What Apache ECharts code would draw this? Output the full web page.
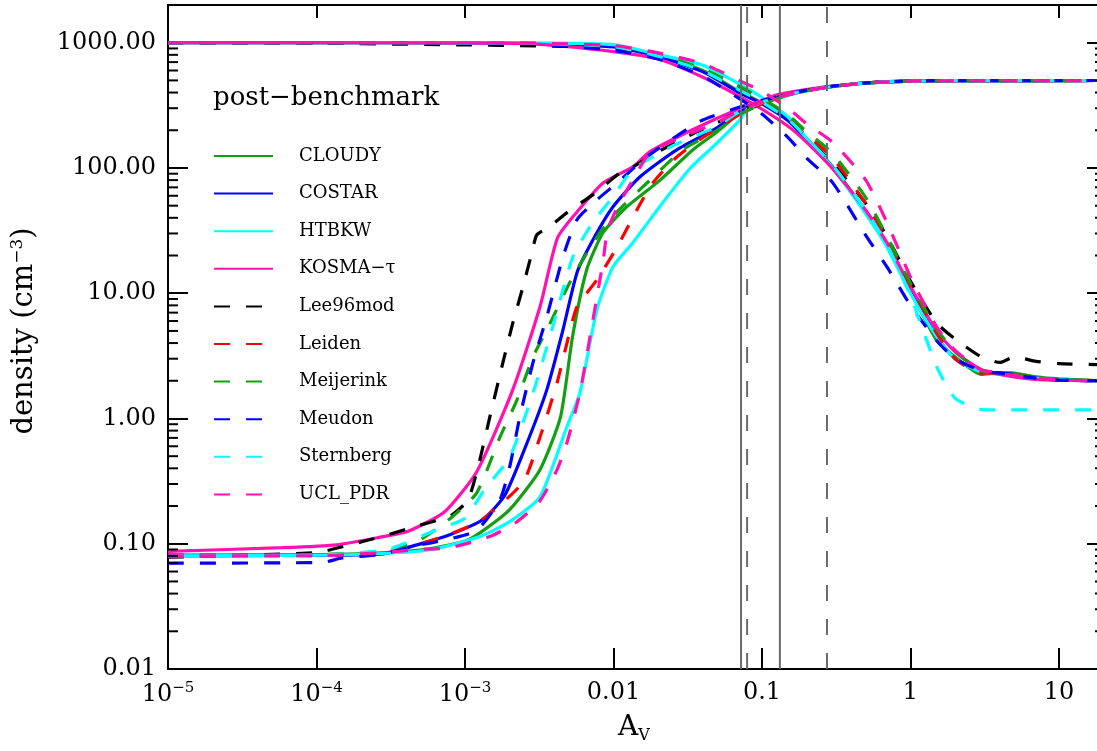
<!DOCTYPE html>
<html>
<head>
<meta charset="utf-8">
<script src="https://cdn.jsdelivr.net/npm/echarts@6/dist/echarts.min.js"></script>
<style>
  html, body { margin: 0; padding: 0; background: #ffffff; }
  #chart { width: 1097px; height: 751px; }
</style>
</head>
<body>
<div id="chart"></div>
<script>
// PDR benchmark: atomic (H) and molecular (H2) hydrogen density vs. visual extinction

const MODELS = ['CLOUDY', 'COSTAR', 'HTBKW', 'KOSMA−τ', 'Lee96mod', 'Leiden', 'Meijerink', 'Meudon', 'Sternberg', 'UCL_PDR'];

// A_V sampling for the H (decreasing) curves
const DESC_A = [1e-5, 1e-4, 1e-3, 3e-3, 0.01, 0.02, 0.04, 0.07, 0.1, 0.15, 0.2, 0.3, 0.5, 0.7, 1, 1.5, 2, 3, 4, 5, 7, 10, 18.9];

// n(H) per model, on DESC_A
const CLOUDY_H = [1000, 1000, 998, 988, 935, 790, 600, 410, 330, 245, 172, 102, 45, 24, 10.5, 4.2, 3.1, 2.25, 2.32, 2.3, 2.15, 2.07, 2.0];
const COSTAR_H = [1000, 1000, 997, 985, 925, 775, 585, 400, 325, 238, 168, 100, 44, 23.5, 10.3, 4.5, 3.0, 2.4, 2.3, 2.25, 2.1, 2.03, 2.0];
const HTBKW_H = [1000, 1000, 999, 993, 965, 805, 660, 470, 365, 255, 172, 100, 43, 23, 10.0, 4.5, 3.0, 2.35, 2.25, 2.2, 2.1, 2.03, 2.0];
const KOSMA_H = [1000, 1000, 996, 975, 850, 740, 530, 375, 295, 215, 160, 98, 46, 25, 11.3, 5.0, 3.4, 2.45, 2.25, 2.15, 2.05, 2.02, 2.0];
const LEE_H = [1000, 990, 960, 945, 905, 780, 590, 420, 335, 245, 178, 108, 52, 28, 12.5, 5.8, 4.3, 3.1, 2.8, 3.1, 2.86, 2.74, 2.69];
const LEIDEN_H = [1000, 1000, 998, 988, 935, 790, 610, 440, 350, 255, 185, 120, 52, 27, 11.5, 4.8, 3.0, 2.3, 2.3, 2.25, 2.1, 2.03, 2.0];
const MEIJ_H = [1000, 1000, 998, 988, 940, 800, 620, 450, 360, 265, 195, 130, 58, 28, 12, 5.2, 3.4, 2.4, 2.3, 2.25, 2.1, 2.03, 2.0];
const MEUDON_H = [1000, 1000, 997, 980, 870, 740, 540, 360, 270, 175, 120, 76, 29, 16, 8.0, 4.2, 3.0, 2.4, 2.3, 2.2, 2.1, 2.02, 2.0];
const STERN_H = [1000, 1000, 998, 988, 930, 780, 595, 420, 335, 245, 175, 105, 46, 24, 9.5, 2.6, 1.45, 1.18, 1.17, 1.17, 1.17, 1.17, 1.17];
const UCL_H = [1000, 1000, 999, 990, 946, 830, 680, 500, 410, 300, 225, 160, 80, 36, 13.5, 5.4, 3.5, 2.45, 2.3, 2.2, 2.1, 2.02, 2.0];

// n(H2) per model, as [A_V, density] pairs
const CLOUDY_H2 = [[1e-5,0.081],[1e-4,0.082],[3e-4,0.085],[6e-4,0.092],[1e-3,0.105],[1.26e-3,0.122],[2.0e-3,0.187],[3.2e-3,0.39],[4.4e-3,1.03],[5.3e-3,4.5],[6.6e-3,15.4],[8.5e-3,30.4],[0.0123,49],[0.0206,80],[0.0343,140],[0.05,195],[0.07,270],[0.1,330],[0.15,385],[0.2,415],[0.3,448],[0.5,477],[1,494],[2,498],[18.9,499]];
const COSTAR_H2 = [[1e-5,0.08],[1e-4,0.081],[2.8e-4,0.083],[4.75e-4,0.098],[7.9e-4,0.118],[1.32e-3,0.156],[1.86e-3,0.245],[2.62e-3,0.64],[3.56e-3,1.7],[4.57e-3,5.1],[5.68e-3,14.6],[7.28e-3,26.7],[9.93e-3,49],[0.0151,85],[0.0268,140],[0.05,210],[0.07,280],[0.1,335],[0.15,387],[0.2,416],[0.3,448],[0.5,477],[1,494],[2,498],[18.9,499]];
const HTBKW_H2 = [[1e-5,0.08],[1e-4,0.081],[3e-4,0.084],[6e-4,0.09],[1.26e-3,0.114],[2.0e-3,0.15],[3.2e-3,0.237],[4.86e-3,0.86],[5.94e-3,1.6],[7.74e-3,7.4],[9.93e-3,16.3],[0.0135,25.3],[0.0215,53],[0.033,100],[0.05,159],[0.0713,243],[0.079,292],[0.1,325],[0.15,380],[0.2,412],[0.3,446],[0.5,476],[1,494],[2,498],[18.9,499]];
const KOSMA_H2 = [[1e-5,0.087],[5.9e-5,0.093],[1.37e-4,0.098],[2.8e-4,0.114],[4.1e-4,0.125],[7.3e-4,0.18],[1.2e-3,0.376],[2.1e-3,1.7],[3.2e-3,7.8],[4.2e-3,27.7],[5.7e-3,44.8],[8.5e-3,76],[0.0135,102],[0.0176,135],[0.034,202],[0.0713,300],[0.1,345],[0.126,384],[0.274,446],[0.5,477],[1,495],[2,498],[18.9,499]];
const LEE_H2 = [[1e-5,0.078],[1e-4,0.085],[1.68e-4,0.098],[2.8e-4,0.115],[4.7e-4,0.138],[7.3e-4,0.16],[8.2e-4,0.17],[1.05e-3,0.224],[1.26e-3,0.47],[1.47e-3,1.03],[1.8e-3,2.79],[2.1e-3,5.8],[2.46e-3,11.3],[2.82e-3,21],[3.05e-3,29.3],[3.73e-3,34],[4.86e-3,44],[7.74e-3,64.6],[0.0106,88],[0.0135,102],[0.02,135],[0.035,190],[0.05,230],[0.07,285],[0.1,335],[0.15,387],[0.2,416],[0.3,448],[0.5,477],[1,494],[2,498],[18.9,499]];
const LEIDEN_H2 = [[1e-5,0.081],[1e-4,0.081],[3e-4,0.086],[6.8e-4,0.112],[1.26e-3,0.152],[2.46e-3,0.31],[3.2e-3,0.71],[4.17e-3,1.93],[4.86e-3,4.0],[5.68e-3,7.8],[7.74e-3,12.8],[0.0106,23.5],[0.0144,46.5],[0.0184,76],[0.0268,123],[0.04,175],[0.07,265],[0.1,325],[0.15,382],[0.2,414],[0.3,447],[0.5,476],[1,494],[2,498],[18.9,499]];
const MEIJ_H2 = [[1e-5,0.081],[1e-4,0.082],[3e-4,0.088],[5e-4,0.108],[8e-4,0.16],[1.2e-3,0.255],[1.72e-3,0.71],[2.24e-3,1.41],[2.87e-3,3.1],[3.56e-3,5.1],[5.33e-3,13.6],[8.1e-3,30.4],[0.0106,44.8],[0.0176,80],[0.0294,140],[0.05,200],[0.07,265],[0.1,325],[0.15,383],[0.2,414],[0.3,447],[0.5,476],[1,494],[2,498],[18.9,499]];
const MEUDON_H2 = [[1e-5,0.07],[1.1e-4,0.071],[1.49e-4,0.077],[2.7e-4,0.082],[4.6e-4,0.096],[7.6e-4,0.108],[1.2e-3,0.128],[1.72e-3,0.224],[2.0e-3,0.41],[2.34e-3,1.03],[2.87e-3,2.79],[3.56e-3,6.5],[4.57e-3,19.5],[5.68e-3,38.6],[7.74e-3,55.7],[0.0106,76],[0.0168,123],[0.038,235],[0.07,305],[0.1,345],[0.15,390],[0.2,418],[0.3,450],[0.5,478],[1,495],[2,498],[18.9,499]];
const STERN_H2 = [[1e-5,0.08],[1e-4,0.081],[3e-4,0.09],[6.5e-4,0.13],[1e-3,0.16],[1.35e-3,0.27],[2.0e-3,0.49],[2.87e-3,1.6],[3.9e-3,5.4],[5.33e-3,19.5],[7.28e-3,37],[9.93e-3,59],[0.0135,97],[0.025,150],[0.05,215],[0.07,280],[0.1,335],[0.15,387],[0.2,416],[0.3,448],[0.5,477],[1,494],[2,498],[18.9,499]];
const UCL_H2 = [[1e-5,0.08],[1e-4,0.08],[2.8e-4,0.085],[4.8e-4,0.09],[7.9e-4,0.093],[1.47e-3,0.114],[2.24e-3,0.15],[3.2e-3,0.22],[4.17e-3,0.39],[4.86e-3,0.64],[5.94e-3,1.6],[6.95e-3,4.5],[8.1e-3,12.8],[8.5e-3,17.6],[9.04e-3,30.4],[9.93e-3,41],[0.0116,59],[0.0135,80],[0.0176,132],[0.03,180],[0.05,230],[0.07,285],[0.1,335],[0.15,387],[0.2,416],[0.3,448],[0.5,477],[1,494],[2,498],[18.9,499]];

// reference depths marked by vertical lines
const VLINES_SOLID = [0.0723, 0.132];
const VLINES_DASHED = [0.0794, 0.274];

// axis ranges and tick labels
const X_MIN = 1e-5, X_MAX = 18.9;
const Y_MIN = 0.01, Y_MAX = 2000;
const X_TICKS = [1e-5, 1e-4, 1e-3, 0.01, 0.1, 1, 10];
const X_TICK_TEXT = ['10{sup|−5}', '10{sup|−4}', '10{sup|−3}', '0.01', '0.1', '1', '10'];
const Y_TICKS = [0.01, 0.1, 1, 10, 100, 1000];
const Y_TICK_TEXT = ['0.01', '0.10', '1.00', '10.00', '100.00', '1000.00'];

const H_SETS = [CLOUDY_H, COSTAR_H, HTBKW_H, KOSMA_H, LEE_H, LEIDEN_H, MEIJ_H, MEUDON_H, STERN_H, UCL_H];
const H2_SETS = [CLOUDY_H2, COSTAR_H2, HTBKW_H2, KOSMA_H2, LEE_H2, LEIDEN_H2, MEIJ_H2, MEUDON_H2, STERN_H2, UCL_H2];
const COLORS = ['#12a012', '#0000ff', '#00ffff', '#ff12b0', '#000000', '#ff0000', '#12a012', '#0000ff', '#00ffff', '#ff12b0'];
const DASHED = [false, false, false, false, true, true, true, true, true, true];

const FONT = 'DejaVu Serif';

function tickText(v, ticks, texts) {
  for (let i = 0; i < ticks.length; i++) {
    if (Math.abs(Math.log10(v) - Math.log10(ticks[i])) < 1e-6) return texts[i];
  }
  return '';
}

const series = [];
MODELS.forEach((name, i) => {
  const lineStyle = { color: COLORS[i], width: 3.2, type: DASHED[i] ? [16, 16] : 'solid' };
  const common = {
    type: 'line', name: name, showSymbol: false, symbol: 'none',
    lineStyle: lineStyle, itemStyle: { color: COLORS[i] },
    smooth: 0.2, z: 2 + i, silent: true,
    xAxisIndex: 0, yAxisIndex: 0
  };
  series.push(Object.assign({}, common, { data: DESC_A.map((a, j) => [a, H_SETS[i][j]]) }));
  series.push(Object.assign({}, common, { data: H2_SETS[i] }));
});

VLINES_SOLID.forEach(x => series.push({
  type: 'line', name: '_v', data: [[x, Y_MIN], [x, Y_MAX]], symbol: 'none', silent: true, z: 30,
  lineStyle: { color: '#6a6a6a', width: 2, type: 'solid' }
}));
VLINES_DASHED.forEach(x => series.push({
  type: 'line', name: '_v', data: [[x, Y_MIN], [x, Y_MAX]], symbol: 'none', silent: true, z: 30,
  lineStyle: { color: '#6a6a6a', width: 2, type: [16, 18] }
}));

// minor log ticks (2..9 per decade) on the left and right frame
const minorData = [];
for (let d = -2; d <= 3; d++) {
  for (let k = 2; k <= 9; k++) {
    const v = k * Math.pow(10, d);
    if (v < Y_MAX) { minorData.push([X_MIN, v, 1]); minorData.push([X_MAX, v, -1]); }
  }
}
series.push({
  type: 'custom', name: '_minor', data: minorData, clip: false, silent: true, z: 40,
  renderItem: function (params, api) {
    const p = api.coord([api.value(0), api.value(1)]);
    const dir = api.value(2);
    const len = dir > 0 ? 10 : 5;
    return { type: 'line', shape: { x1: p[0], y1: p[1], x2: p[0] + dir * len, y2: p[1] },
      style: { stroke: '#000', lineWidth: 2 } };
  }
});

const axisLineStyle = { color: '#000', width: 2 };

const option = {
  animation: false,
  backgroundColor: '#ffffff',
  title: {
    text: 'post−benchmark', left: 213, top: 85, padding: 0,
    textStyle: { fontFamily: FONT, fontSize: 26, fontWeight: 'normal', color: '#000' }
  },
  legend: {
    data: MODELS, orient: 'vertical', left: 213, top: 146, padding: 0,
    itemWidth: 59, itemHeight: 20, itemGap: 17.6, selectedMode: false,
    itemStyle: { opacity: 0, borderWidth: 0 },
    textStyle: { fontFamily: FONT, fontSize: 18, color: '#000', padding: [0, 0, 0, 21], lineHeight: 20 }
  },
  grid: { left: 168, top: 5, width: 932, height: 664, containLabel: false, outerBoundsMode: 'none' },
  xAxis: [
    {
      type: 'log', logBase: 10, min: X_MIN, max: X_MAX, position: 'bottom',
      name: 'A{sub|V}', nameLocation: 'middle', nameGap: 43,
      nameTextStyle: { fontFamily: FONT, fontSize: 28, color: '#000',
        rich: { sub: { fontFamily: FONT, fontSize: 16, color: '#000', padding: [16, 0, 0, 0] } } },
      axisLine: { show: true, onZero: false, lineStyle: axisLineStyle },
      axisTick: { show: true, inside: true, length: 21, lineStyle: { color: '#000', width: 2 } },
      axisLabel: {
        margin: 12, color: '#000', fontFamily: FONT, fontSize: 24, showMinLabel: true, showMaxLabel: true,
        formatter: v => tickText(v, X_TICKS, X_TICK_TEXT),
        rich: { sup: { fontFamily: FONT, fontSize: 15, color: '#000', padding: [0, 0, 12, 0] } }
      },
      splitLine: { show: false }, minorTick: { show: false }
    },
    {
      type: 'log', logBase: 10, min: X_MIN, max: X_MAX, position: 'top',
      axisLine: { show: true, onZero: false, lineStyle: axisLineStyle },
      axisTick: { show: true, inside: true, length: 13, lineStyle: { color: '#000', width: 2 } },
      axisLabel: { show: false }, splitLine: { show: false }
    }
  ],
  yAxis: [
    {
      type: 'log', logBase: 10, min: Y_MIN, max: Y_MAX, position: 'left',
      name: 'density (cm{sup|−3})', nameLocation: 'middle', nameGap: 128, nameRotate: 90,
      nameTextStyle: { fontFamily: FONT, fontSize: 29, color: '#000', padding: [0, 0, 0, 12],
        rich: { sup: { fontFamily: FONT, fontSize: 17, color: '#000', padding: [0, 0, 14, 0] } } },
      axisLine: { show: true, onZero: false, lineStyle: axisLineStyle },
      axisTick: { show: true, inside: true, length: 20, lineStyle: { color: '#000', width: 2 } },
      axisLabel: { margin: 12, color: '#000', fontFamily: FONT, fontSize: 24,
        formatter: v => tickText(v, Y_TICKS, Y_TICK_TEXT) },
      splitLine: { show: false }, minorTick: { show: false }
    },
    {
      type: 'log', logBase: 10, min: Y_MIN, max: Y_MAX, position: 'right',
      axisLine: { show: true, onZero: false, lineStyle: axisLineStyle },
      axisTick: { show: true, inside: true, length: 13, lineStyle: { color: '#000', width: 2 } },
      axisLabel: { show: false }, splitLine: { show: false }
    }
  ],
  series: series
};

const chart = echarts.init(document.getElementById('chart'), null, { renderer: 'canvas' });
chart.setOption(option);
</script>
</body>
</html>
